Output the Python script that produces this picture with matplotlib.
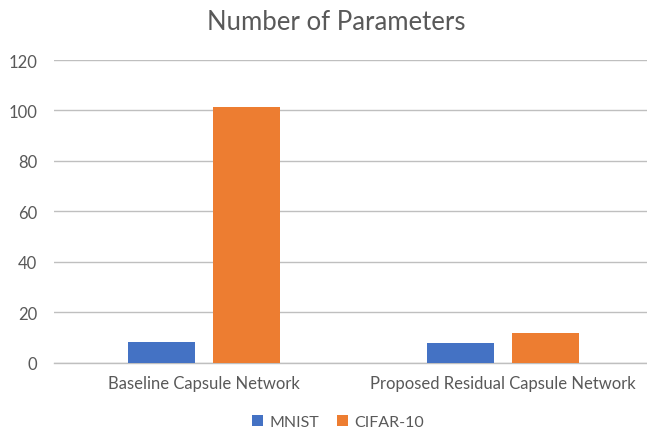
import matplotlib
matplotlib.use("Agg")
import matplotlib.pyplot as plt
import numpy as np

categories = ["Baseline Capsule Network", "Proposed Residual Capsule Network"]
series_names = ["MNIST", "CIFAR-10"]
mnist = [8.1, 7.6]
cifar = [101.3, 11.7]
yticks = [0, 20, 40, 60, 80, 100, 120]

colors = ["#4472C4", "#ED7D31"]
text_color = "#595959"
grid_color = "#BFBFBF"
plt.rcParams['font.family'] = ['Lato', 'DejaVu Sans']

W, H = 647, 435
fig = plt.figure(figsize=(W / 100, H / 100), dpi=100)
left, right = 54 / W, 653 / W
bottom, top = (H - 363.5) / H, (H - 61) / H
ax = fig.add_axes([left, bottom, right - left, top - bottom])

x = np.arange(len(categories))
bw = 0.224
off = 0.142
ax.bar(x - off, mnist, bw, color=colors[0], label=series_names[0], zorder=3)
ax.bar(x + off, cifar, bw, color=colors[1], label=series_names[1], zorder=3)

ax.set_xlim(-0.5, 1.5)
ax.set_ylim(0, 120)
ax.set_yticks(yticks)
ax.set_yticklabels([str(t) for t in yticks], fontsize=12, color=text_color)
ax.set_xticks(x)
ax.set_xticklabels(categories, fontsize=12, color=text_color)
ax.tick_params(axis='both', length=0)
ax.tick_params(axis='y', pad=12)
ax.tick_params(axis='x', pad=9)
ax.grid(axis='y', color=grid_color, linewidth=1.0, zorder=0)
for s in ["top", "right", "left"]:
    ax.spines[s].set_visible(False)
ax.spines["bottom"].set_color(grid_color)
ax.spines["bottom"].set_linewidth(1.0)

fig.text(336 / W, 1 - 23 / H, "Number of Parameters", ha="center", va="center",
         fontsize=18.5, color=text_color)

handles, labels = ax.get_legend_handles_labels()
leg = fig.legend(handles, labels, loc="center", bbox_to_anchor=(338 / W, 1 - 423 / H),
                 ncol=2, frameon=False, fontsize=11.5, handlelength=0.7, handleheight=0.7,
                 handletextpad=0.4, columnspacing=1.1)
for t in leg.get_texts():
    t.set_color(text_color)

fig.savefig("out.png", dpi=100)
